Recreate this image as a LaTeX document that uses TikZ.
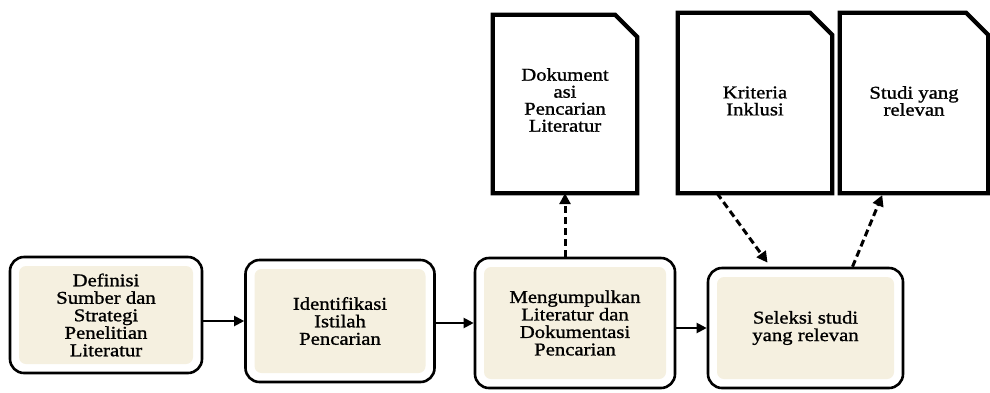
\documentclass[tikz,border=0pt]{standalone}
\usepackage{fontspec}
\setmainfont[FakeStretch=1.15,FakeBold=1.2]{Liberation Serif}
\usetikzlibrary{arrows.meta}
\definecolor{beige}{RGB}{245,240,224}
\tikzset{
  boxnode/.style={draw=black, line width=2.6pt, fill=white, rounded corners=14pt,
    align=center, inner sep=0pt, font=\fontsize{18}{17.5}\selectfont,
    path picture={\fill[beige, rounded corners=7pt]
      ([shift={(9pt,9pt)}]path picture bounding box.south west) rectangle
      ([shift={(-9pt,-9pt)}]path picture bounding box.north east);}},
  docnode/.style={draw=none, align=center, inner sep=0pt, font=\fontsize{18}{17}\selectfont},
  docline/.style={line width=4.2pt, line join=miter, fill=white},
  flow/.style={line width=2pt, -{Triangle[length=10pt,width=10pt]}},
  dflow/.style={line width=3pt, dash pattern=on 7pt off 4pt, -{Triangle[length=11pt,width=11pt]}},
}
\begin{document}
\begin{tikzpicture}[x=1pt,y=-1pt]
\useasboundingbox (0,0) rectangle (990,392);
% document shapes
\node[docnode, minimum width=144pt, minimum height=178pt] (d1) at (565,104) {};
\node[docnode, minimum width=154pt, minimum height=180pt] (d2) at (755,103) {};
\node[docnode, minimum width=148pt, minimum height=180pt] (d3) at (914,103) {};
\foreach \d in {d1,d2,d3}{
  \draw[docline] (\d.south west) -- (\d.north west) -- ([xshift=-22pt]\d.north east)
    -- ([yshift=-22pt]\d.north east) -- (\d.south east) -- cycle;
}
\node[docnode] (t1) at ([yshift=4pt]d1) {Dokument\\asi\\Pencarian\\Literatur};
\node[docnode] (t2) at ([yshift=2pt]d2) {Kriteria\\Inklusi};
\node[docnode] (t3) at ([yshift=2pt]d3) {Studi yang\\relevan};
% process boxes
\node[boxnode, minimum width=192pt, minimum height=116pt] (b1) at (106,315)
  {Definisi\\Sumber dan\\Strategi\\Penelitian\\Literatur};
\node[boxnode, minimum width=189pt, minimum height=122pt] (b2) at (340,321)
  {Identifikasi\\Istilah\\Pencarian};
\node[boxnode, minimum width=200pt, minimum height=130pt] (b3) at (575,323)
  {Mengumpulkan\\Literatur dan\\Dokumentasi\\Pencarian};
\node[boxnode, minimum width=195pt, minimum height=120pt] (b4) at (805.5,328)
  {Seleksi studi\\yang relevan};
% connectors
\draw[flow] (b1.east |- b2.west) -- (b2.west);
\draw[flow] (b2.east |- b3.west) -- (b3.west);
\draw[flow] (b3.east |- b4.west) -- (b4.west);
\draw[dflow] (d1.south |- b3.north) -- (d1.south);
\draw[dflow, shorten >=5pt] ([xshift=-38pt]d2.south) -- ([xshift=-35pt]b4.north);
\draw[dflow, shorten >=2pt] ([xshift=47pt]b4.north) -- ([xshift=-31pt]d3.south);
\end{tikzpicture}
\end{document}
